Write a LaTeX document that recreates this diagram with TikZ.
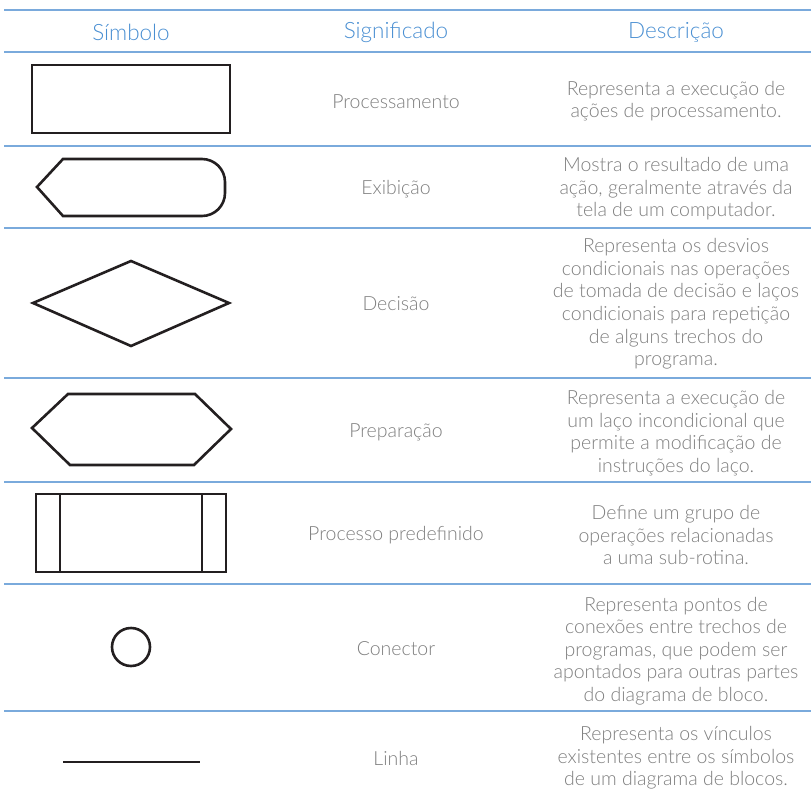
\documentclass[tikz,border=0pt]{standalone}
\usepackage{fontspec}
\setmainfont{Lato}[UprightFont=* Light]
\begin{document}
\begin{tikzpicture}[x=1pt,y=-1pt,
  rule/.style={draw=ruleblue, line width=2pt},
  sym/.style={draw=symblack, line width=2.6pt, line join=miter},
  head/.style={text=headblue, font=\fontsize{22.5}{26}\selectfont, anchor=center},
  mean/.style={text=txtgray, font=\fontsize{19.5}{22}\selectfont, anchor=center},
  desc/.style={text=txtgray, font=\fontsize{19.5}{22.6}\selectfont, align=center, anchor=center}]
\definecolor{ruleblue}{HTML}{7AAADC}
\definecolor{headblue}{HTML}{4A8FD2}
\definecolor{txtgray}{HTML}{7E7E7E}
\definecolor{symblack}{HTML}{231F20}
\useasboundingbox (0,0) rectangle (811,797);
% rules
\foreach \yy/\nm in {10/r0,52/r1,146/r2,228/r3,378/r4,482/r5,584/r6,711/r7}
  \draw[rule] (4,\yy) coordinate (\nm a) -- (811,\yy) coordinate (\nm b);
% headers
\node[head] (h1) at (131,32) {Símbolo};
\node[head] (h2) at (396,32) {Significado};
\node[head] (h3) at (676,32) {Descrição};
% symbols
\draw[sym] (32,65) rectangle (230,133);
\draw[sym] (37,187) -- (63,159) -- (202,159) arc[start angle=-90,end angle=0,radius=23]
  -- (225,193) arc[start angle=0,end angle=90,radius=23] -- (63,216) -- cycle;
\draw[sym] (33,303) -- (131,261) -- (229,303) -- (131,346) -- cycle;
\draw[sym] (32,428) -- (68,394) -- (195,394) -- (231,429) -- (194,465) -- (70,465) -- cycle;
\draw[sym] (36,494) rectangle (226,572);
\draw[sym] (60,494) -- (60,572);
\draw[sym] (202,494) -- (202,572);
\draw[sym] (131,647) circle[radius=19];
\draw[sym] (63,762) -- (200,762);
% meanings
\node[mean] (m1) at (396,102) {Processamento};
\node[mean] (m2) at (396,189) {Exibição};
\node[mean] (m3) at (396,304) {Decisão};
\node[mean] (m4) at (396,432) {Preparação};
\node[mean] (m5) at (396,535) {Processo predefinido};
\node[mean] (m6) at (396,649) {Conector};
\node[mean] (m7) at (396,758) {Linha};
% descriptions
\node[desc] (d1) at (676,101) {Representa a execução de\\ações de processamento.};
\node[desc] (d2) at (676,189) {Mostra o resultado de uma\\ação, geralmente através da\\tela de um computador.};
\node[desc] (d3) at (676,304) {Representa os desvios\\condicionais nas operações\\de tomada de decisão e laços\\condicionais para repetição\\de alguns trechos do\\programa.};
\node[desc] (d4) at (676,433) {Representa a execução de\\um laço incondicional que\\permite a modificação de\\instruções do laço.};
\node[desc] (d5) at (676,535) {Define um grupo de\\operações relacionadas\\a uma sub-rotina.};
\node[desc] (d6) at (676,651) {Representa pontos de\\conexões entre trechos de\\programas, que podem ser\\apontados para outras partes\\do diagrama de bloco.};
\node[desc] (d7) at (676,758) {Representa os vínculos\\existentes entre os símbolos\\de um diagrama de blocos.};
\end{tikzpicture}
\end{document}
